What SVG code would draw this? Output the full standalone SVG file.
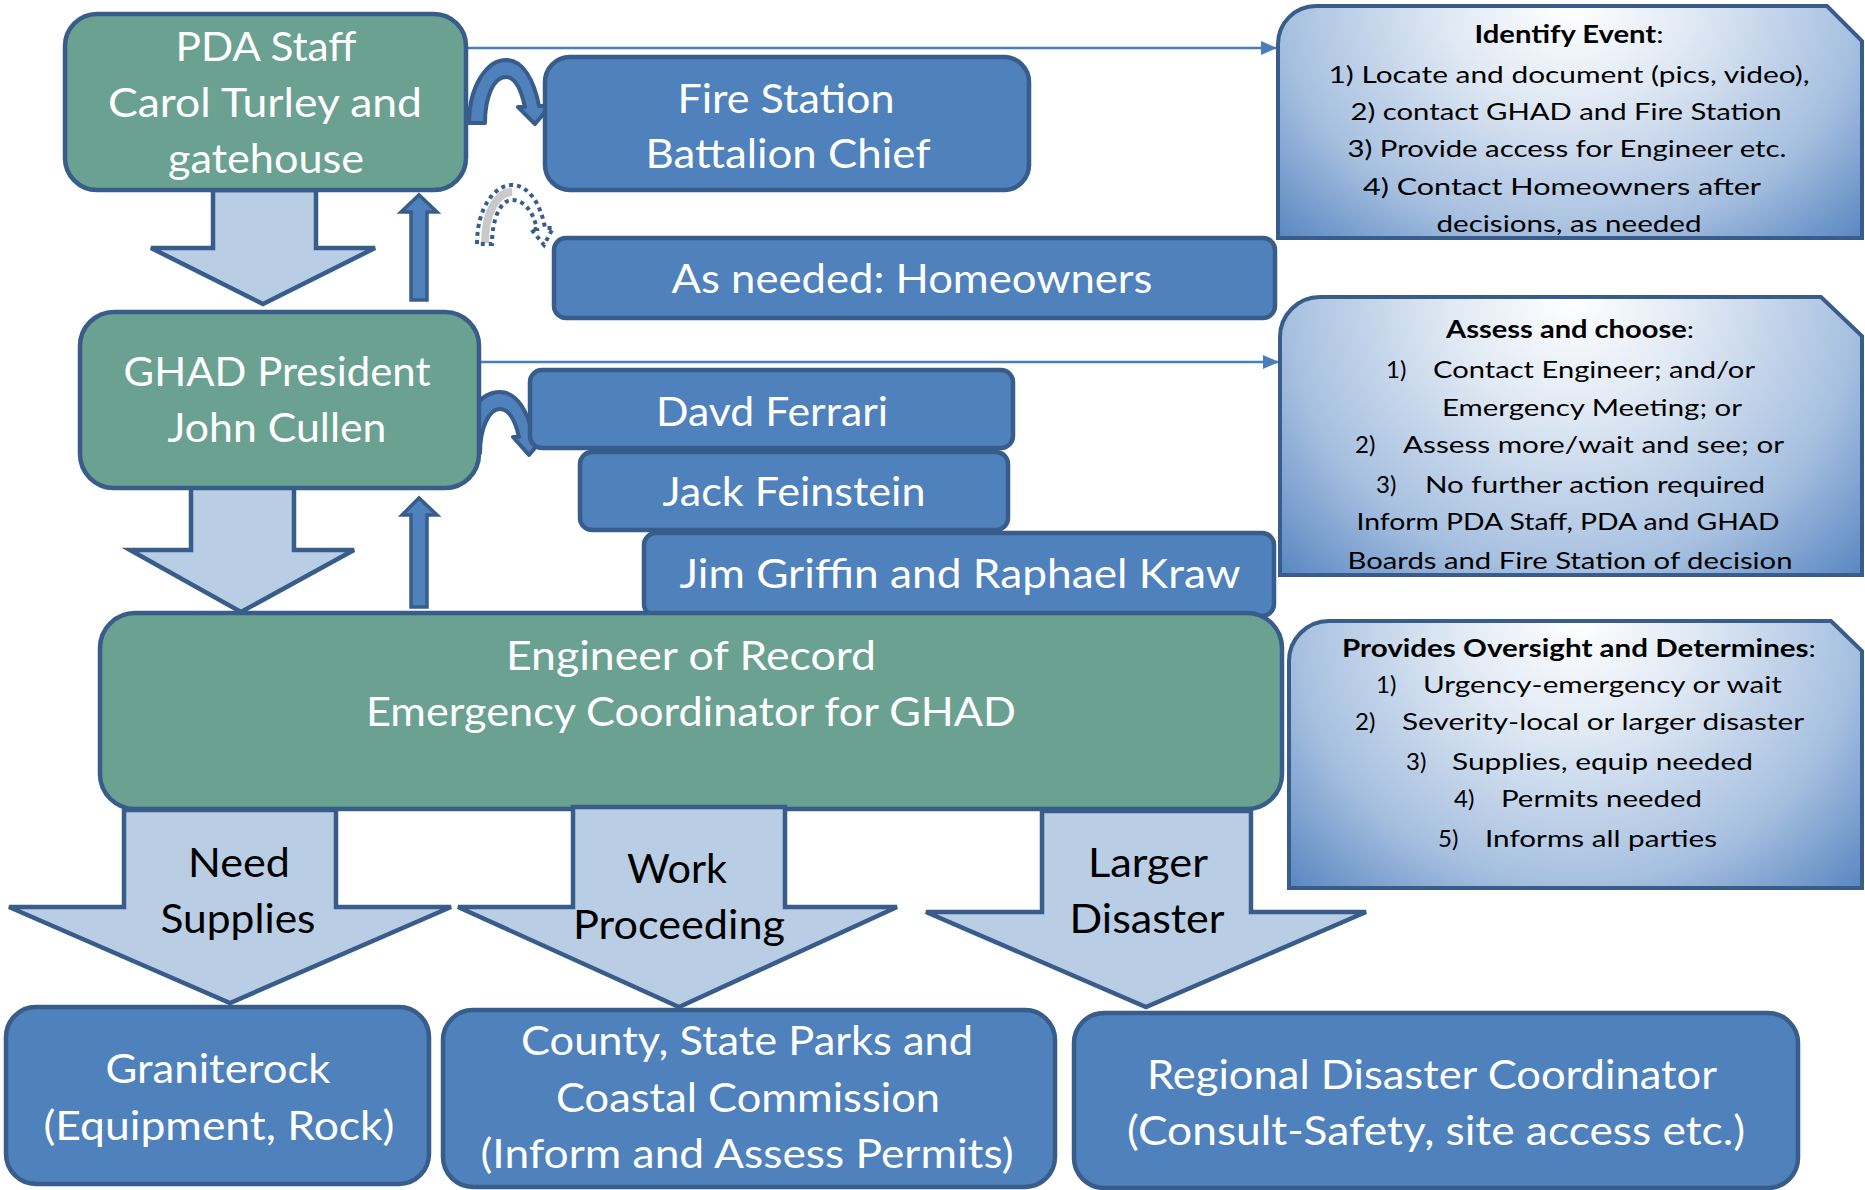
<svg xmlns="http://www.w3.org/2000/svg" width="1865" height="1190" viewBox="0 0 1865 1190">
<defs>
<style>
.g{fill:#6ba191;stroke:#385d8a;stroke-width:4.5}
.b{fill:#4f81bd;stroke:#385d8a;stroke-width:4.5}
.la{fill:#b9cde5;stroke:#385d8a;stroke-width:4.5;stroke-linejoin:miter}
.ua{fill:#4f81bd;stroke:#385d8a;stroke-width:3.5}
.cv{fill:#4f81bd;stroke:#385d8a;stroke-width:4;stroke-linejoin:round}
.grad{fill:url(#rg);stroke:#385d8a;stroke-width:4}
.wt{font-family:Lato,"Liberation Sans",sans-serif;font-size:41px;fill:#ffffff;text-anchor:middle}
.kt{font-family:Lato,"Liberation Sans",sans-serif;font-size:41px;fill:#000000;text-anchor:middle}
.st{font-family:Lato,"Liberation Sans",sans-serif;font-size:24px;fill:#000000;text-anchor:middle}
.sl{text-anchor:start}
.bd{font-weight:bold}
.conn{stroke:#4a7ebb;stroke-width:2.5;fill:none;marker-end:url(#ah)}
</style>
<marker id="ah" markerUnits="userSpaceOnUse" markerWidth="18" markerHeight="14" refX="16" refY="7" orient="auto"><path d="M0,0 L16,7 L0,14 Z" fill="#4a7ebb"/></marker>
<radialGradient id="rg" cx="0.5" cy="0" r="1" gradientTransform="translate(0.5,0) scale(0.7,1.4) translate(-0.5,0)">
<stop offset="0" stop-color="#ffffff"/>
<stop offset="0.3" stop-color="#e0e9f4"/>
<stop offset="0.7" stop-color="#a7c0e0"/>
<stop offset="1" stop-color="#5b88c2"/>
</radialGradient>
</defs>
<rect x="0" y="0" width="1865" height="1190" fill="#ffffff"/>

<g id="connectors">
<path class="conn" d="M466,48 L1277,48"/>
<path class="conn" d="M479,362 L1279,362"/>
<polygon id="arrow-pda-ghad" class="la" points="213,190 316,190 316,248 375,248 263,304 151,248 213,248"/>
<polygon id="arrow-ghad-eng" class="la" points="191,487 294,487 294,550 354,550 241,612 130,550 191,550"/>
<polygon id="arrow-up-1" class="ua" points="411,300 427,300 427,212 437,212 419,195 401,212 411,212"/>
<polygon id="arrow-up-2" class="ua" points="411,607 427,607 427,515 437,515 419,498 402,515 411,515"/>
<path id="curve-fire" class="cv" d="M469,123 C469,86 487,60 506,60 C523,60 534,80 539,106 L550,106 L535,124 L518,107 L525,107 C521,89 515,77 506,77 C494,77 485,96 485,123 Z"/>
<path id="curve-davd" class="cv" d="M461,453 C461,416 480,392 500,392 C517,392 528,412 533,436 L545,436 L529,455 L513,437 L519,437 C515,420 509,409 500,409 C489,409 480,428 480,453 Z"/>
<g id="curve-dotted">
<path d="M485,243 C485,211 498,192 512,192" fill="none" stroke="#c9c9c9" stroke-width="8"/>
<path d="M477,244 C477,207 495,185 512,185 C529,185 541,205 545,228 L553,228 L544,245 L531,229 L537,229 C533,211 524,200 512,200 C500,200 492,220 492,244 Z" fill="none" stroke="#385d8a" stroke-width="4" stroke-dasharray="4 4"/>
</g>
</g>

<g id="pda-staff">
<rect class="g" x="65" y="14" width="401" height="176" rx="32"/>
<text class="wt" x="266" y="61" textLength="181" lengthAdjust="spacingAndGlyphs">PDA Staff</text>
<text class="wt" x="265" y="117" textLength="314" lengthAdjust="spacingAndGlyphs">Carol Turley and</text>
<text class="wt" x="266" y="173" textLength="196" lengthAdjust="spacingAndGlyphs">gatehouse</text>
</g>

<g id="fire-station">
<rect class="b" x="545" y="57" width="484" height="133" rx="25"/>
<text class="wt" x="786" y="113" textLength="217" lengthAdjust="spacingAndGlyphs">Fire Station</text>
<text class="wt" x="788" y="168" textLength="285" lengthAdjust="spacingAndGlyphs">Battalion Chief</text>
</g>

<g id="homeowners">
<rect class="b" x="554" y="238" width="721" height="80" rx="12"/>
<text class="wt" x="912" y="293" textLength="481" lengthAdjust="spacingAndGlyphs">As needed: Homeowners</text>
</g>

<g id="ghad-president">
<rect class="g" x="80" y="312" width="399" height="176" rx="34"/>
<text class="wt" x="277" y="386" textLength="307" lengthAdjust="spacingAndGlyphs">GHAD President</text>
<text class="wt" x="277" y="442" textLength="219" lengthAdjust="spacingAndGlyphs">John Cullen</text>
</g>

<g id="davd-ferrari">
<rect class="b" x="530" y="370" width="483" height="78" rx="12"/>
<text class="wt" x="772" y="426" textLength="232" lengthAdjust="spacingAndGlyphs">Davd Ferrari</text>
</g>

<g id="jack-feinstein">
<rect class="b" x="580" y="452" width="428" height="78" rx="12"/>
<text class="wt" x="794" y="506" textLength="263" lengthAdjust="spacingAndGlyphs">Jack Feinstein</text>
</g>

<g id="jim-griffin">
<rect class="b" x="644" y="533" width="630" height="83" rx="12"/>
<text class="wt" x="960" y="588" textLength="561" lengthAdjust="spacingAndGlyphs">Jim Griffin  and Raphael Kraw</text>
</g>

<g id="engineer">
<rect class="g" x="100" y="613" width="1182" height="196" rx="35"/>
<text class="wt" x="691" y="670" textLength="370" lengthAdjust="spacingAndGlyphs">Engineer of Record</text>
<text class="wt" x="691" y="726" textLength="650" lengthAdjust="spacingAndGlyphs">Emergency Coordinator for GHAD</text>
</g>

<g id="arrow-need-supplies">
<polygon class="la" points="124,810 336,810 336,907 451,907 230,1003 9,907 124,907"/>
<text class="kt" x="239" y="877" textLength="102" lengthAdjust="spacingAndGlyphs">Need</text>
<text class="kt" x="238" y="933" textLength="155" lengthAdjust="spacingAndGlyphs">Supplies</text>
</g>

<g id="arrow-work-proceeding">
<polygon class="la" points="573,807 785,807 785,907 897,907 679,1007 458,907 573,907"/>
<text class="kt" x="677" y="883" textLength="100" lengthAdjust="spacingAndGlyphs">Work</text>
<text class="kt" x="679" y="939" textLength="212" lengthAdjust="spacingAndGlyphs">Proceeding</text>
</g>

<g id="arrow-larger-disaster">
<polygon class="la" points="1042,811 1251,811 1251,912 1366,912 1146,1007 926,912 1042,912"/>
<text class="kt" x="1148" y="877" textLength="120" lengthAdjust="spacingAndGlyphs">Larger</text>
<text class="kt" x="1147" y="933" textLength="155" lengthAdjust="spacingAndGlyphs">Disaster</text>
</g>

<g id="graniterock">
<rect class="b" x="6" y="1007" width="423" height="177" rx="30"/>
<text class="wt" x="218" y="1083" textLength="225" lengthAdjust="spacingAndGlyphs">Graniterock</text>
<text class="wt" x="219" y="1140" textLength="351" lengthAdjust="spacingAndGlyphs">(Equipment, Rock)</text>
</g>

<g id="county">
<rect class="b" x="443" y="1010" width="612" height="177" rx="30"/>
<text class="wt" x="747" y="1055" textLength="452" lengthAdjust="spacingAndGlyphs">County, State Parks and</text>
<text class="wt" x="748" y="1112" textLength="384" lengthAdjust="spacingAndGlyphs">Coastal Commission</text>
<text class="wt" x="747" y="1168" textLength="533" lengthAdjust="spacingAndGlyphs">(Inform and Assess Permits)</text>
</g>

<g id="regional">
<rect class="b" x="1074" y="1013" width="724" height="175" rx="30"/>
<text class="wt" x="1432" y="1089" textLength="570" lengthAdjust="spacingAndGlyphs">Regional Disaster Coordinator</text>
<text class="wt" x="1436" y="1145" textLength="618" lengthAdjust="spacingAndGlyphs">(Consult-Safety, site access etc.)</text>
</g>

<g id="identify-event">
<path class="grad" d="M1278,238 L1278,44 A38,38 0 0 1 1316,6 L1827,6 L1862,41 L1862,238 Z"/>
<text class="st" x="1569" y="43" textLength="189" lengthAdjust="spacingAndGlyphs"><tspan class="bd">Identify Event</tspan>:</text>
<text class="st" x="1569" y="83" textLength="481" lengthAdjust="spacingAndGlyphs">1) Locate and document (pics, video),</text>
<text class="st" x="1566" y="120" textLength="431" lengthAdjust="spacingAndGlyphs">2) contact GHAD and Fire Station</text>
<text class="st" x="1567" y="157" textLength="439" lengthAdjust="spacingAndGlyphs">3) Provide access for Engineer etc.</text>
<text class="st" x="1562" y="195" textLength="398" lengthAdjust="spacingAndGlyphs">4) Contact Homeowners after</text>
<text class="st" x="1569" y="232" textLength="265" lengthAdjust="spacingAndGlyphs">decisions, as needed</text>
</g>

<g id="assess-choose">
<path class="grad" d="M1280,575 L1280,337 A40,40 0 0 1 1320,297 L1821,297 L1862,336 L1862,575 Z"/>
<text class="st" x="1570" y="338" textLength="248" lengthAdjust="spacingAndGlyphs"><tspan class="bd">Assess and choose</tspan>:</text>
<text class="st sl" x="1386" y="378">1)</text>
<text class="st sl" x="1433" y="378" textLength="322" lengthAdjust="spacingAndGlyphs">Contact Engineer; and/or</text>
<text class="st sl" x="1442" y="416" textLength="300" lengthAdjust="spacingAndGlyphs">Emergency Meeting; or</text>
<text class="st sl" x="1355" y="453">2)</text>
<text class="st sl" x="1403" y="453" textLength="381" lengthAdjust="spacingAndGlyphs">Assess more/wait and see; or</text>
<text class="st sl" x="1376" y="493">3)</text>
<text class="st sl" x="1425" y="493" textLength="340" lengthAdjust="spacingAndGlyphs">No further action required</text>
<text class="st" x="1568" y="530" textLength="423" lengthAdjust="spacingAndGlyphs">Inform PDA Staff, PDA and GHAD</text>
<text class="st" x="1570" y="569" textLength="445" lengthAdjust="spacingAndGlyphs">Boards and Fire Station of decision</text>
</g>

<g id="oversight">
<path class="grad" d="M1289,888 L1289,661 A40,40 0 0 1 1329,621 L1831,621 L1862,651 L1862,888 Z"/>
<text class="st" x="1579" y="657" textLength="474" lengthAdjust="spacingAndGlyphs"><tspan class="bd">Provides Oversight and Determines</tspan>:</text>
<text class="st sl" x="1376" y="693">1)</text>
<text class="st sl" x="1423" y="693" textLength="359" lengthAdjust="spacingAndGlyphs">Urgency-emergency or wait</text>
<text class="st sl" x="1355" y="730">2)</text>
<text class="st sl" x="1402" y="730" textLength="402" lengthAdjust="spacingAndGlyphs">Severity-local or larger disaster</text>
<text class="st sl" x="1406" y="770">3)</text>
<text class="st sl" x="1452" y="770" textLength="301" lengthAdjust="spacingAndGlyphs">Supplies, equip needed</text>
<text class="st sl" x="1454" y="807">4)</text>
<text class="st sl" x="1501" y="807" textLength="201" lengthAdjust="spacingAndGlyphs">Permits needed</text>
<text class="st sl" x="1438" y="847">5)</text>
<text class="st sl" x="1485" y="847" textLength="232" lengthAdjust="spacingAndGlyphs">Informs all parties</text>
</g>
</svg>
